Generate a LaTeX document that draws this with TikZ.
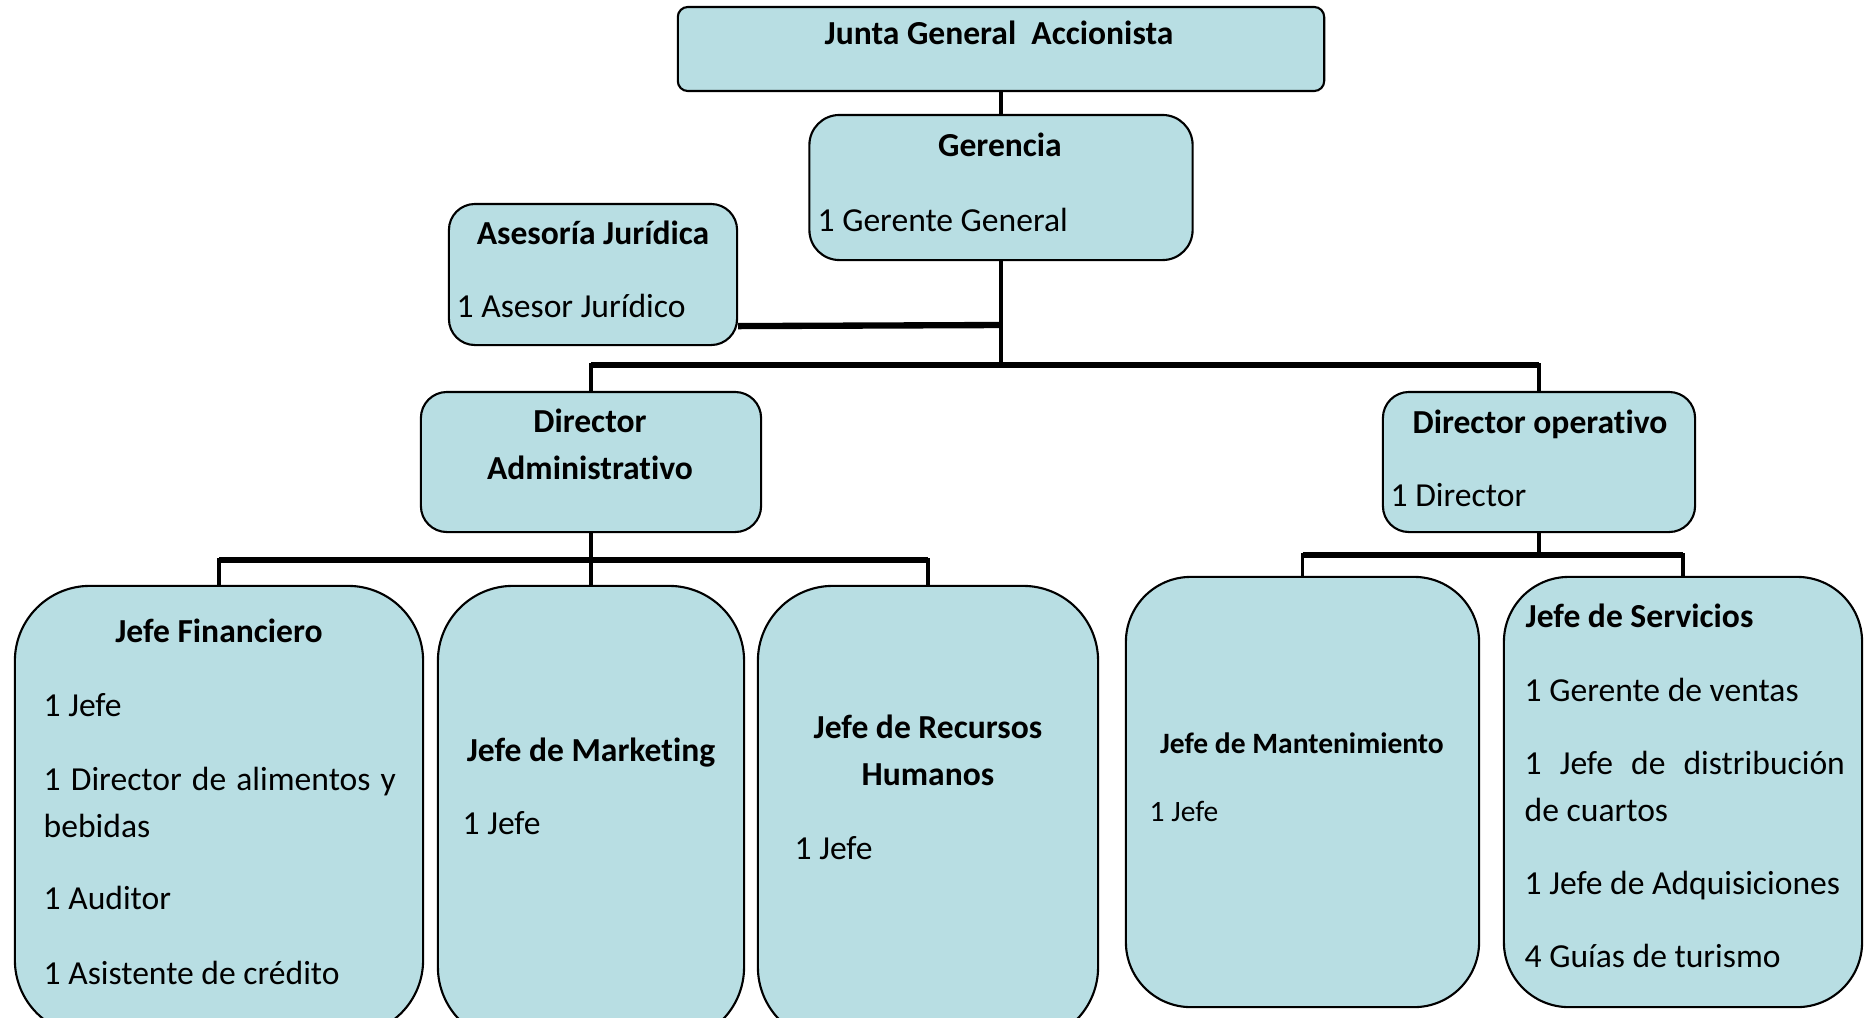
\documentclass[tikz,border=0pt]{standalone}
\usepackage{fontspec}
\setmainfont[Ligatures=NoCommon]{Carlito}
\definecolor{boxfill}{RGB}{184,222,227}
\newcommand{\txtsz}{\fontsize{9.55pt}{11pt}\selectfont}
\newcommand{\smlsz}{\fontsize{8.4pt}{10pt}\selectfont}

\begin{document}
\begin{tikzpicture}[x=0.01cm, y=-0.01cm,
  box/.style={draw=black, line width=0.6pt, fill=boxfill, inner sep=0pt},
  ttl/.style={font=\txtsz\bfseries, inner sep=0pt, anchor=base},
  itm/.style={font=\txtsz, inner sep=0pt, anchor=base west},
  link/.style={line width=1.1pt, line cap=rect},
  bar/.style={line width=1.8pt}]
  \useasboundingbox (0,0) rectangle (1869,1017);

  %% Boxes: name/cx/cy/width/height/corner (cm)
  \foreach \n/\cx/\cy/\w/\h/\r in {
      junta/1001/49/6.46/0.84/0.10,
      geren/1001/187.5/3.83/1.45/0.30,
      asesor/593/274.5/2.88/1.41/0.26,
      diradm/591/462/3.40/1.40/0.26,
      dirop/1539/462/3.12/1.40/0.26,
      jfin/219/810.5/4.08/4.49/0.75,
      jmkt/591/814/3.06/4.56/0.75,
      jrrhh/928/814/3.40/4.56/0.75,
      jmant/1302.5/792/3.53/4.30/0.65,
      jserv/1683/792/3.58/4.30/0.65}{
    \node[box, minimum width=\w cm, minimum height=\h cm,
          rounded corners=\r cm] (\n) at (\cx,\cy) {};
  }

  %% Connectors, top levels
  \draw[link] (junta.south) -- (geren.north);
  \path (geren.south) ++(0,104) coordinate (trunk);
  \draw[link] (geren.south) -- (trunk);
  \draw[bar] ([yshift=0.2cm]asesor.south east) -- (geren.south |- 0,325);
  \draw[bar] (diradm.north |- trunk) -- (dirop.north |- trunk);
  \foreach \n in {diradm,dirop}
    \draw[link] (\n.north |- trunk) -- (\n.north);

  %% Administrative branch
  \path (diradm.south) ++(0,27) coordinate (admbar);
  \draw[link] (diradm.south) -- (admbar);
  \draw[bar] (jfin.north |- admbar) -- (jrrhh.north |- admbar);
  \foreach \n in {jfin,jmkt,jrrhh}
    \draw[link] (\n.north |- admbar) -- (\n.north);

  %% Operative branch
  \path (dirop.south) ++(0,22) coordinate (opbar);
  \draw[link] (dirop.south) -- (opbar);
  \draw[bar] (jmant.north |- opbar) -- (jserv.north |- opbar);
  \foreach \n in {jmant,jserv}
    \draw[link] (\n.north |- opbar) -- (\n.north);

  %% Titles
  \node[ttl] (junta-t) at (999,44) {Junta General\ \ Accionista};
  \node[ttl] (geren-t) at (1000,156) {Gerencia};
  \node[ttl] (asesor-t) at (593,244) {Asesoría Jurídica};
  \node[ttl] (diradm-t1) at (590,432) {Director};
  \node[ttl] (diradm-t2) at (590,479) {Administrativo};
  \node[ttl] (dirop-t) at (1540,433) {Director operativo};
  \node[ttl] (jfin-t) at (219,642) {Jefe Financiero};
  \node[ttl] (jmkt-t) at (591,761) {Jefe de Marketing};
  \node[ttl] (jrrhh-t1) at (928,738) {Jefe de Recursos};
  \node[ttl] (jrrhh-t2) at (928,785) {Humanos};
  \node[ttl, font=\smlsz\bfseries] (jmant-t) at (1302,753) {Jefe de Mantenimiento};
  \node[ttl, anchor=base west] (jserv-t) at (1525,627) {Jefe de Servicios};

  %% Staff lines
  \node[itm] (geren-1) at (817,231) {1 Gerente General};
  \node[itm] (asesor-1) at (456,317) {1 Asesor Jurídico};
  \node[itm] (dirop-1) at (1390,506) {1 Director};

  \foreach \s/\y [count=\i] in {1 Jefe/716, bebidas/837, 1 Auditor/909,
                                1 Asistente de crédito/984}
    \node[itm] (jfin-\i) at (43,\y) {\s};
  \node[itm] (jfin-dir) at (43,790) {\makebox[3.52cm][s]{1 Director de alimentos y}};

  \node[itm] (jmkt-1) at (462,834) {1 Jefe};
  \node[itm] (jrrhh-1) at (794,859) {1 Jefe};
  \node[itm, font=\smlsz] (jmant-1) at (1149,821) {1 Jefe};

  \foreach \s/\y [count=\i] in {1 Gerente de ventas/701, de cuartos/821,
                                1 Jefe de Adquisiciones/894, 4 Guías de turismo/967}
    \node[itm] (jserv-\i) at (1524,\y) {\s};
  \node[itm] (jserv-dist) at (1524,774) {\makebox[3.20cm][s]{1 Jefe de distribución}};

\end{tikzpicture}
\end{document}
